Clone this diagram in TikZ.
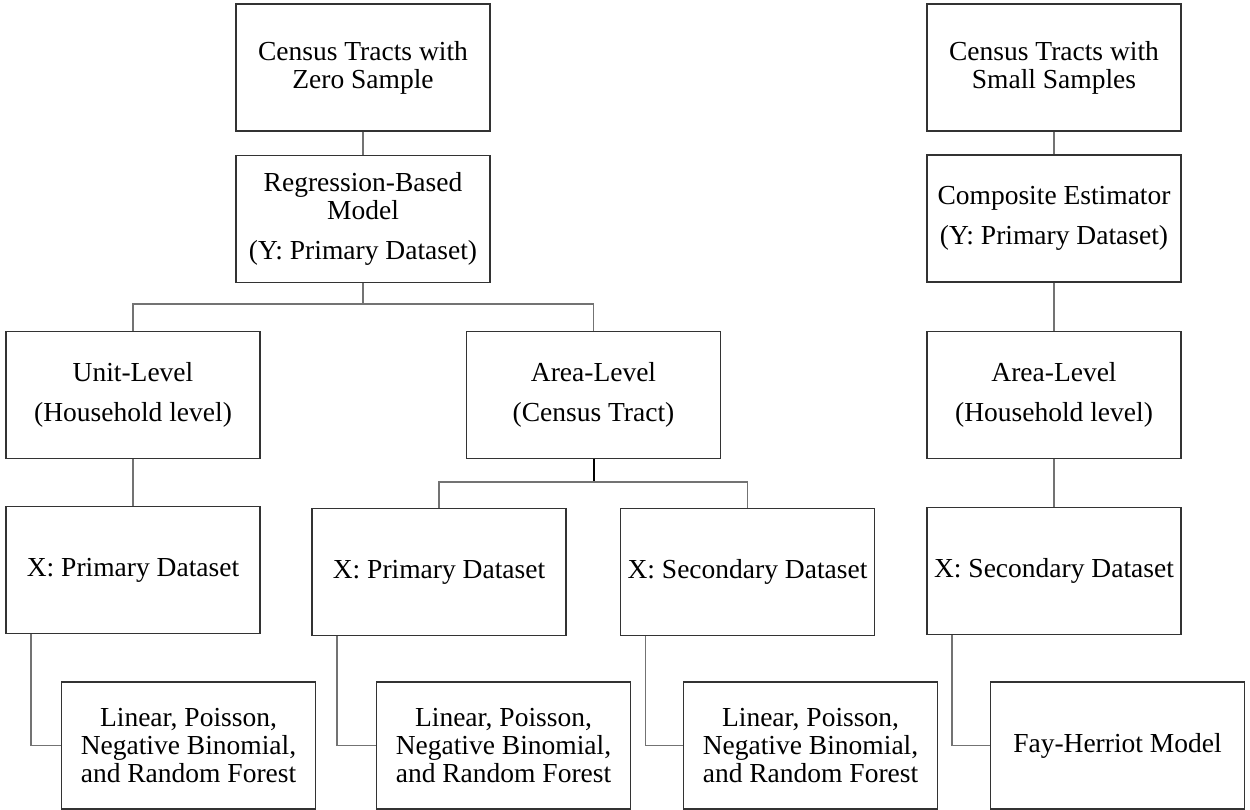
\documentclass[tikz,border=0pt]{standalone}
\usepackage{fontspec}
\setmainfont{Liberation Serif}
\begin{document}
\begin{tikzpicture}[x=1pt,y=-1pt,
  box/.style={draw=black!80,line width=1.3pt,minimum width=254pt,minimum height=127pt,
    inner sep=0pt,align=center,font=\fontsize{27.5}{28}\selectfont},
  link/.style={draw=black!55,line width=1.4pt},
  strong/.style={draw=black,line width=2pt}]
\useasboundingbox (0,0) rectangle (1250,810);
% left tree
\node[box] (zero) at (363,67.5) {Census Tracts with\\Zero Sample};
\node[box] (reg) at (363,219) {Regression-Based\\Model\\[12pt](Y: Primary Dataset)};
\node[box] (unit) at (133,395) {Unit-Level\\[12pt](Household level)};
\node[box] (area) at (593.5,395) {Area-Level\\[12pt](Census Tract)};
\node[box] (xp1) at (133,570) {X: Primary Dataset};
\node[box] (xp2) at (439,572) {X: Primary Dataset};
\node[box] (xs2) at (747.5,572) {X: Secondary Dataset};
\node[box] (lin1) at (188.5,745.5) {Linear, Poisson,\\Negative Binomial,\\and Random Forest};
\node[box] (lin2) at (503.5,745.5) {Linear, Poisson,\\Negative Binomial,\\and Random Forest};
\node[box] (lin3) at (810.5,745.5) {Linear, Poisson,\\Negative Binomial,\\and Random Forest};
% right tree
\node[box] (small) at (1054,67.5) {Census Tracts with\\Small Samples};
\node[box] (comp) at (1054,218.5) {Composite Estimator\\[12pt](Y: Primary Dataset)};
\node[box] (area2) at (1054,395) {Area-Level\\[12pt](Household level)};
\node[box] (xs3) at (1054,571) {X: Secondary Dataset};
\node[box] (fay) at (1117.5,745.5) {Fay-Herriot Model};
% connectors
\coordinate (b1) at (363,304);
\coordinate (b2) at (593.5,482);
\draw[link] (zero.south) -- (reg.north);
\draw[link] (reg.south) -- (b1);
\draw[link] (unit.north) |- (b1) -| (area.north);
\draw[link] (unit.south) -- (xp1.north);
\draw[strong] (area.south) -- (b2);
\draw[link] (xp2.north) |- (b2) -| (xs2.north);
\draw[link] ([xshift=25.5pt]xp1.south west) |- (lin1.west);
\draw[link] ([xshift=25.5pt]xp2.south west) |- (lin2.west);
\draw[link] ([xshift=25.5pt]xs2.south west) |- (lin3.west);
\draw[link] (small.south) -- (comp.north);
\draw[link] (comp.south) -- (area2.north);
\draw[link] (area2.south) -- (xs3.north);
\draw[link] ([xshift=25.5pt]xs3.south west) |- (fay.west);
\end{tikzpicture}
\end{document}
